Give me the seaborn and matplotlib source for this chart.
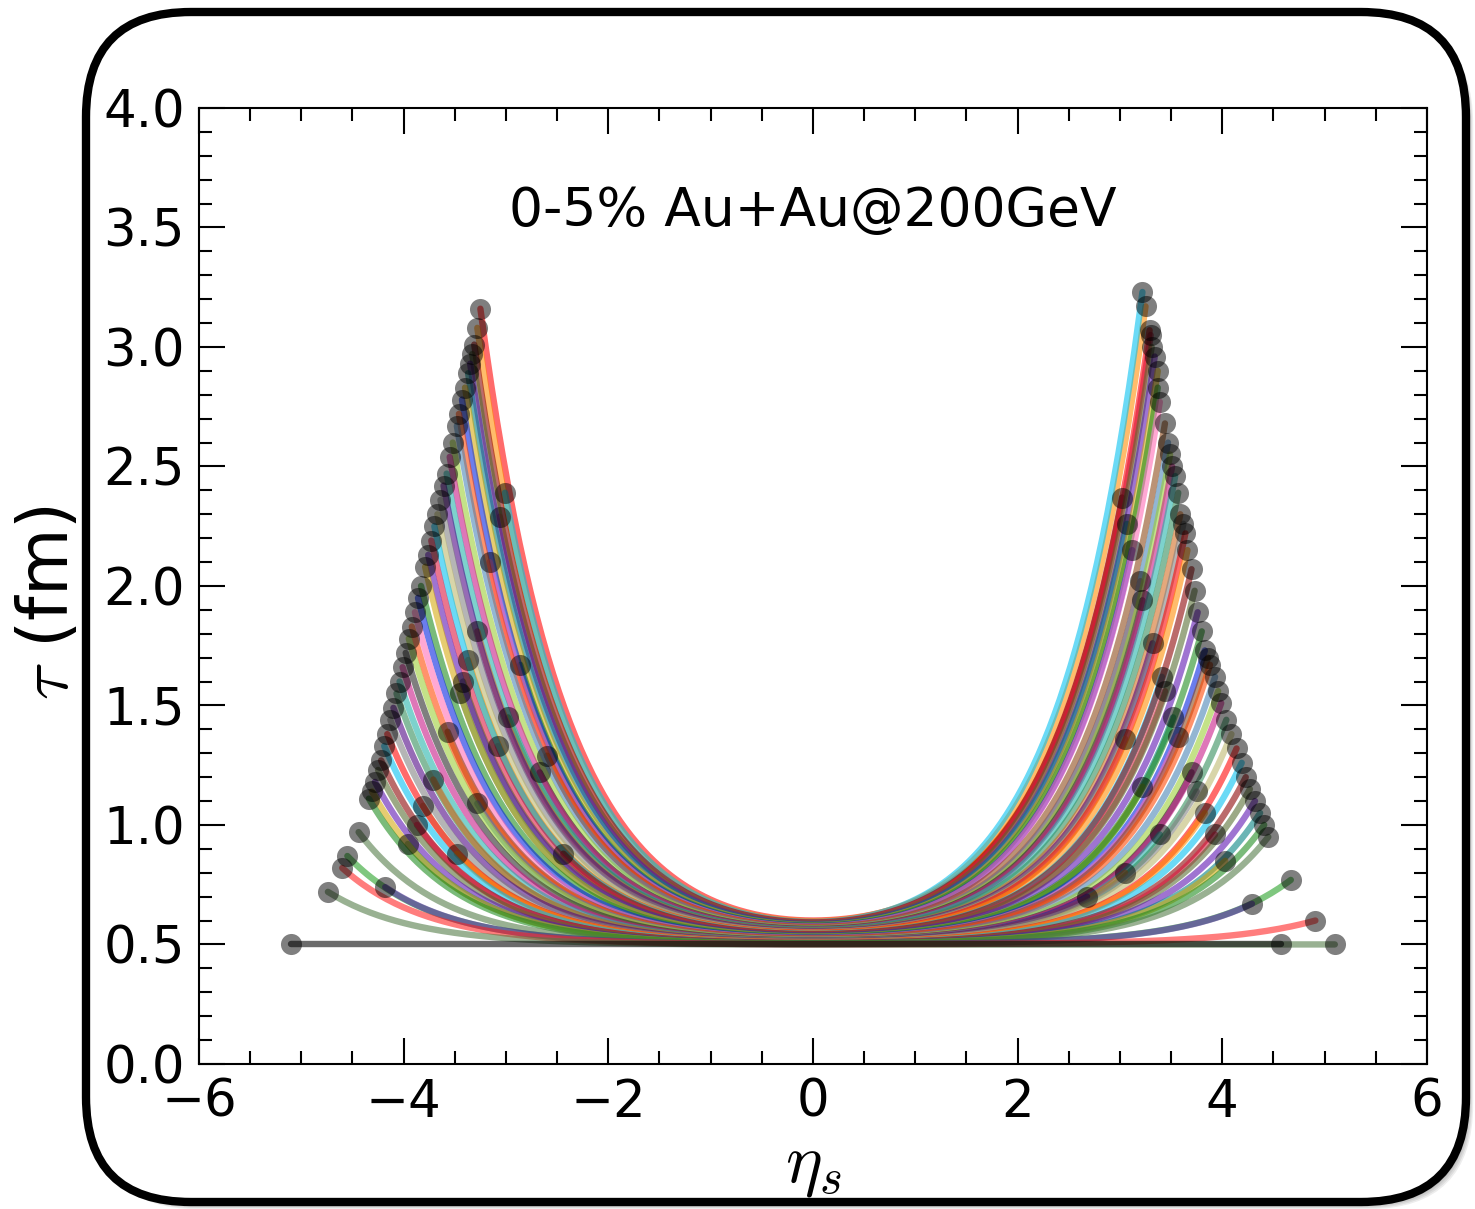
import numpy as np
import pandas as pd
import seaborn as sns
import matplotlib.pyplot as plt
from matplotlib.patches import FancyBboxPatch
from matplotlib.ticker import MultipleLocator

# string ends (eta_s, tau in fm), left end paired with right end
eta_left = [-3.25, -3.28, -3.01, -3.31, -3.06, -3.33, -3.35, -3.37, -3.40, -2.86,
            -3.43, -3.16, -2.60, -3.46, -3.48, -3.52, -2.67, -3.55, -3.58, -2.98,
            -3.28, -3.61, -3.64, -3.67, -3.08, -3.37, -3.70, -2.44, -3.73, -3.42,
            -3.76, -3.45, -3.79, -3.83, -3.86, -3.89, -3.57, -3.92, -3.28, -3.95,
            -3.98, -4.01, -4.04, -4.07, -3.71, -4.10, -4.13, -3.81, -4.16, -3.48,
            -4.19, -4.22, -3.87, -4.25, -4.28, -3.96, -4.31, -4.34, -4.44, -4.55,
            -4.18, -4.60, -4.74, -5.10]
tau_left = [3.16, 3.08, 2.39, 3.01, 2.29, 2.97, 2.93, 2.89, 2.83, 1.67,
            2.78, 2.10, 1.29, 2.72, 2.67, 2.60, 1.22, 2.54, 2.47, 1.45,
            1.81, 2.42, 2.36, 2.30, 1.33, 1.69, 2.25, 0.88, 2.19, 1.60,
            2.13, 1.55, 2.08, 2.00, 1.95, 1.89, 1.39, 1.83, 1.09, 1.78,
            1.72, 1.66, 1.60, 1.55, 1.19, 1.49, 1.44, 1.08, 1.38, 0.88,
            1.33, 1.27, 1.00, 1.23, 1.18, 0.92, 1.14, 1.11, 0.97, 0.87,
            0.74, 0.82, 0.72, 0.50]
eta_right = [3.29, 3.25, 3.22, 3.02, 3.30, 3.31, 3.34, 3.07, 3.37, 3.37,
             3.12, 3.39, 3.44, 3.20, 3.47, 3.49, 3.22, 3.51, 3.54, 3.57,
             3.59, 3.32, 3.62, 3.05, 3.64, 3.66, 3.41, 3.70, 3.44, 3.73,
             3.76, 3.52, 3.22, 3.80, 3.83, 3.57, 3.86, 3.88, 3.93, 3.96,
             3.70, 3.99, 3.39, 4.04, 3.05, 2.68, 3.75, 4.09, 4.14, 3.83,
             4.19, 4.23, 3.93, 4.27, 4.32, 4.37, 4.03, 4.41, 4.45, 4.67,
             4.29, 4.91, 5.10, 4.57]
tau_right = [3.07, 3.17, 3.23, 2.37, 3.05, 3.00, 2.96, 2.26, 2.90, 2.83,
             2.15, 2.77, 2.68, 2.02, 2.60, 2.55, 1.94, 2.50, 2.46, 2.39,
             2.30, 1.76, 2.26, 1.36, 2.22, 2.15, 1.62, 2.07, 1.56, 1.98,
             1.89, 1.45, 1.16, 1.81, 1.73, 1.37, 1.70, 1.67, 1.62, 1.56,
             1.22, 1.51, 0.96, 1.44, 0.80, 0.70, 1.14, 1.38, 1.32, 1.05,
             1.26, 1.20, 0.96, 1.15, 1.10, 1.05, 0.85, 1.00, 0.95, 0.77,
             0.67, 0.60, 0.50, 0.50]
# tau of each string at eta_s = 0
tau_mid = [0.600, 0.597, 0.594, 0.592, 0.590, 0.588, 0.585, 0.583, 0.581, 0.579,
           0.577, 0.575, 0.573, 0.571, 0.569, 0.567, 0.565, 0.563, 0.561, 0.559,
           0.557, 0.555, 0.553, 0.551, 0.549, 0.547, 0.545, 0.543, 0.541, 0.539,
           0.537, 0.535, 0.533, 0.531, 0.529, 0.527, 0.525, 0.523, 0.521, 0.519,
           0.517, 0.516, 0.515, 0.514, 0.513, 0.512, 0.511, 0.510, 0.509, 0.508,
           0.507, 0.506, 0.505, 0.505, 0.504, 0.504, 0.503, 0.503, 0.502, 0.502,
           0.501, 0.501, 0.500, 0.500]

title_text = "0-5% Au+Au@200GeV"

base_colors = ["#ff0000", "#ff8c00", "#00c0f0", "#8b0000", "#dc143c", "#556b2f",
               "#5a10b0", "#008080", "#d4a80a", "#1a8a1a", "#0020e0", "#ff69b4",
               "#8b4513", "#ff4500", "#4682b4", "#9acd32", "#222222", "#c71585",
               "#20b2aa", "#2e8b57", "#d2691e", "#4b0082", "#808080", "#bdb76b"]
low_colors = ["#4f7a44", "#22a022", "#5522aa", "#ff2020", "#4f7a44", "#000000"]

K_SHAPE = 1.2


def string_curve(eL, tL, eR, tR, t0, n=240):
    eta = np.linspace(eL, eR, n)
    c = np.cosh(K_SHAPE * eta) - 1
    left = t0 + (tL - t0) * c / (np.cosh(K_SHAPE * eL) - 1)
    right = t0 + (tR - t0) * c / (np.cosh(K_SHAPE * eR) - 1)
    return eta, np.where(eta < 0, left, right)


n_str = len(eta_left)
frames = []
for i in range(n_str):
    e, t = string_curve(eta_left[i], tau_left[i], eta_right[i], tau_right[i], tau_mid[i])
    frames.append(pd.DataFrame({"eta": e, "tau": t, "string": i}))
df = pd.concat(frames, ignore_index=True)

colors = {}
for i in range(n_str):
    if i >= n_str - len(low_colors):
        colors[i] = low_colors[i - (n_str - len(low_colors))]
    else:
        colors[i] = base_colors[i % len(base_colors)]

ends = pd.DataFrame({"eta": eta_left + eta_right, "tau": tau_left + tau_right})

sns.set_style("ticks")
plt.rcParams["font.family"] = "DejaVu Sans"
plt.rcParams["mathtext.fontset"] = "cm"
for key in ["text.color", "axes.labelcolor", "xtick.color", "ytick.color",
            "axes.edgecolor"]:
    plt.rcParams[key] = "black"

fig = plt.figure(figsize=(14.75, 12.09), dpi=100)
fig.patch.set_facecolor("white")

# rounded frame with a soft shadow
box = dict(boxstyle="round,pad=0,rounding_size=1.05")
for k in range(6, 0, -1):
    off = 0.012 * k
    fig.add_artist(FancyBboxPatch((0.86 + off, 0.07 - off), 13.80, 11.90,
                                  transform=fig.dpi_scale_trans, facecolor="black",
                                  edgecolor="none", alpha=0.07, zorder=-10, **box))
fig.add_artist(FancyBboxPatch((0.86, 0.07), 13.80, 11.90, transform=fig.dpi_scale_trans,
                              facecolor="white", edgecolor="black", linewidth=6,
                              zorder=-5, **box))

ax = fig.add_axes([0.1349, 0.12, 0.8325, 0.7907])
ax.set_zorder(1)

sns.lineplot(data=df, x="eta", y="tau", hue="string", palette=colors,
             estimator=None, sort=False, linewidth=4.6, alpha=0.58,
             legend=False, ax=ax)
sns.scatterplot(data=ends, x="eta", y="tau", color="black", alpha=0.5, s=230,
                linewidth=0, ax=ax, zorder=3)

ax.set_xlim(-6, 6)
ax.set_ylim(0, 4)
ax.xaxis.set_major_locator(MultipleLocator(2))
ax.xaxis.set_minor_locator(MultipleLocator(0.5))
ax.yaxis.set_major_locator(MultipleLocator(0.5))
ax.yaxis.set_minor_locator(MultipleLocator(0.1))
ax.tick_params(which="both", direction="in", top=True, right=True, width=1.5,
               labelsize=37, colors="black")
ax.tick_params(which="major", length=19, pad=10)
ax.tick_params(which="minor", length=9.5)
for sp in ax.spines.values():
    sp.set_linewidth(1.5)
    sp.set_color("black")

ax.text(0, 3.57, title_text, ha="center", va="center", fontsize=38.5, color="black")

ax.set_xlabel(r"$\eta_s$", fontsize=50)
ax.set_ylabel(r"$\tau$ (fm)", fontsize=50)
ax.xaxis.set_label_coords(0.5, -0.071)
ax.yaxis.set_label_coords(-0.095, 0.483)

fig.savefig("out.png", dpi=100, facecolor="white")
